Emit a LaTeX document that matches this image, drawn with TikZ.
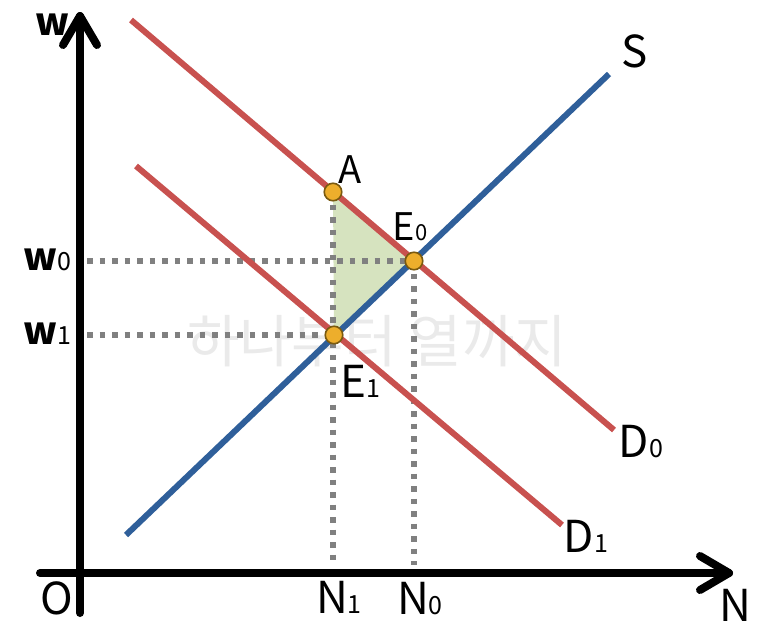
\documentclass[tikz,border=0pt]{standalone}
\usepackage{fontspec}
\setmainfont{Noto Sans CJK KR}
\usetikzlibrary{calc}
\definecolor{dred}{HTML}{C8514F}
\definecolor{sblue}{HTML}{2F5F9A}
\definecolor{tgreen}{HTML}{D6E3BF}
\definecolor{ptfill}{HTML}{EDAE2C}
\definecolor{ptdraw}{HTML}{7A5A10}
\definecolor{dotgray}{HTML}{808080}
\definecolor{wmark}{HTML}{EAEAEA}
\newcommand\bigf{\fontsize{44}{44}\selectfont}
\newcommand\wf{\fontsize{38}{38}\selectfont\bfseries}
\newcommand\midf{\fontsize{38}{38}\selectfont}
\newcommand\subf{\fontsize{25}{25}\selectfont}
\newcommand\smsubf{\fontsize{22}{22}\selectfont}
\tikzset{
  axisline/.style={line width=8pt, line cap=round, line join=round, black},
  curveline/.style={line width=6pt},
  guide/.style={dotgray, line width=5.5pt, dash pattern=on 5.5pt off 7pt},
  pt/.style={circle, fill=ptfill, draw=ptdraw, line width=1.6pt, minimum size=17.5pt, inner sep=0pt},
  lbl/.style={inner sep=0pt, anchor=base},
}
\begin{document}
\begin{tikzpicture}[x=1pt,y=-1pt]
\useasboundingbox (0,0) rectangle (762,638);
% watermark
\node[text=wmark, font=\fontsize{57}{57}\selectfont, inner sep=0pt] (wm) at (377,341) {하나부터 열까지};
% key coordinates
\coordinate (Apt) at (333,192);
\coordinate (E0pt) at (414,261);
\coordinate (E1pt) at (334,335);
\coordinate (D0a) at (131,20);
\coordinate (D0b) at (614,430);
\coordinate (D1a) at (136,166);
\coordinate (D1b) at (562,525);
\coordinate (Sa) at (126,535);
\coordinate (Sb) at (609,74);
\coordinate (vbot) at (80,613);
\coordinate (vtop) at (80,16);
\coordinate (hleft) at (40,573);
\coordinate (hright) at (729,573);
\coordinate (w0end) at (87,261);
\coordinate (w1end) at (87,335);
\coordinate (N1foot) at (333,565);
\coordinate (N0foot) at (414,565);
% shaded triangle
\fill[tgreen] (Apt) -- (E0pt) -- (E1pt) -- cycle;
% guides
\draw[guide] (w0end) -- (E0pt);
\draw[guide] (w1end) -- (E1pt);
\draw[guide] (Apt) -- (N1foot);
\draw[guide] (E0pt) -- (N0foot);
% curves
\draw[curveline, sblue] (Sa) -- (Sb);
\draw[curveline, dred] (D1a) -- (D1b);
\draw[curveline, dred] (D0a) -- (D0b);
% axes
\draw[axisline] (vbot) -- (vtop);
\draw[axisline] ($(vtop)+(-17,29)$) -- (vtop) -- ($(vtop)+(17,29)$);
\draw[axisline] (hleft) -- (hright);
\draw[axisline] ($(hright)+(-29,-17)$) -- (hright) -- ($(hright)+(-29,17)$);
% points
\node[pt] (A) at (Apt) {};
\node[pt] (E0) at (E0pt) {};
\node[pt] (E1) at (E1pt) {};
% labels
\node[lbl] (wlab) at (53,35) {\wf w};
\node[lbl] (w0lab) at (47,270) {\wf w\subf\mdseries 0};
\node[lbl] (w1lab) at (47,344) {\wf w\subf\mdseries 1};
\node[lbl] (Olab) at (57,614) {\bigf O};
\node[lbl] (N1lab) at (339,613) {\bigf N\subf 1};
\node[lbl] (N0lab) at (420,614) {\bigf N\subf 0};
\node[lbl] (Nlab) at (735,621) {\bigf N};
\node[lbl] (Slab) at (635,67) {\bigf S};
\node[lbl] (Alab) at (350,183) {\midf A};
\node[lbl] (E0lab) at (410,240) {\midf E\smsubf 0};
\node[lbl] (E1lab) at (360,397) {\bigf E\subf 1};
\node[lbl] (D0lab) at (641,457) {\bigf D\subf 0};
\node[lbl] (D1lab) at (586,552) {\bigf D\subf 1};
\end{tikzpicture}
\end{document}
